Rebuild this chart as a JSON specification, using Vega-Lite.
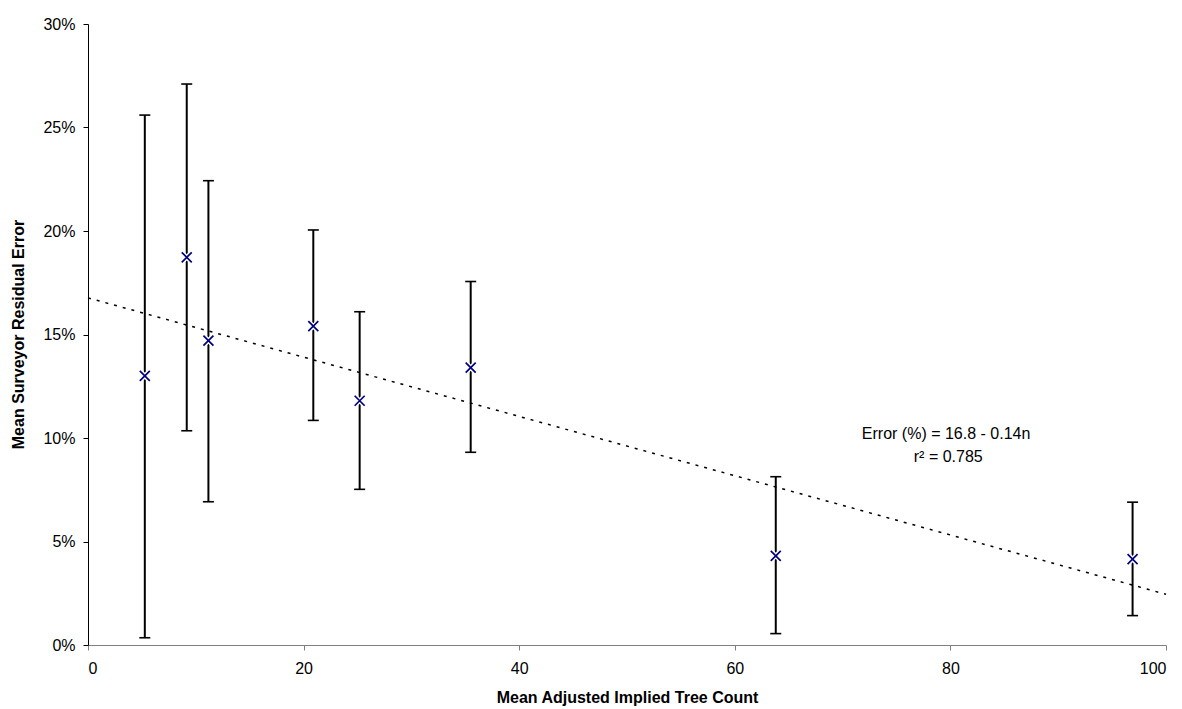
{
  "$schema": "https://vega.github.io/schema/vega-lite/v6.json",
  "width": 1078,
  "height": 621,
  "autosize": {"type": "none"},
  "padding": {"left": 88, "top": 24, "right": 16, "bottom": 64},
  "background": "white",
  "config": {
    "view": {"stroke": null},
    "font": "Liberation Sans",
    "axis": {
      "grid": false,
      "labelFont": "Liberation Sans",
      "labelFontSize": 16,
      "labelColor": "black",
      "titleFont": "Liberation Sans",
      "titleFontSize": 16,
      "titleFontWeight": "bold",
      "titleColor": "black",
      "tickSize": 5,
      "domainWidth": 1,
      "tickWidth": 1
    }
  },
  "datasets": {
    "points": [
      {"n": 5.27, "err": 0.130, "lo": 0.0035, "hi": 0.256},
      {"n": 9.16, "err": 0.1873, "lo": 0.1035, "hi": 0.271},
      {"n": 11.17, "err": 0.147, "lo": 0.0692, "hi": 0.2243},
      {"n": 20.9, "err": 0.154, "lo": 0.1085, "hi": 0.2005},
      {"n": 25.2, "err": 0.118, "lo": 0.0752, "hi": 0.161},
      {"n": 35.5, "err": 0.134, "lo": 0.0931, "hi": 0.1756},
      {"n": 63.8, "err": 0.0431, "lo": 0.0055, "hi": 0.0813},
      {"n": 96.9, "err": 0.0415, "lo": 0.0142, "hi": 0.069}
    ],
    "trend": [
      {"n": 0, "fit": 0.1677},
      {"n": 100, "fit": 0.0245}
    ],
    "notes": [
      {"n": 79.6, "y": 0.1019, "label": "Error (%) = 16.8 - 0.14n"},
      {"n": 79.8, "y": 0.0908, "label": "r² = 0.785"}
    ]
  },
  "layer": [
    {
      "data": {"name": "trend"},
      "mark": {"type": "line", "color": "black", "strokeWidth": 1.5, "strokeDash": [3, 6]},
      "encoding": {
        "x": {
          "field": "n", "type": "quantitative",
          "scale": {"domain": [0, 100], "nice": false, "zero": false},
          "axis": {
            "values": [0, 20, 40, 60, 80, 100], "format": "d",
            "title": "Mean Adjusted Implied Tree Count",
            "domainColor": "#808080", "tickColor": "#808080",
            "labelPadding": 10, "titleX": 539, "titleY": 52, "titleBaseline": "middle"
          }
        },
        "y": {
          "field": "fit", "type": "quantitative",
          "scale": {"domain": [0, 0.3], "nice": false},
          "axis": {
            "values": [0, 0.05, 0.1, 0.15, 0.2, 0.25, 0.3], "format": ".0%",
            "title": "Mean Surveyor Residual Error",
            "domainColor": "black", "tickColor": "black",
            "labelPadding": 8, "titleX": -70, "titleY": 310, "titleAngle": -90,
            "titleAlign": "center", "titleBaseline": "middle"
          }
        }
      }
    },
    {
      "data": {"name": "points"},
      "mark": {"type": "rule", "color": "black", "strokeWidth": 2},
      "encoding": {
        "x": {"field": "n", "type": "quantitative"},
        "y": {"field": "lo", "type": "quantitative"},
        "y2": {"field": "hi"}
      }
    },
    {
      "data": {"name": "points"},
      "mark": {"type": "tick", "color": "black", "orient": "horizontal", "size": 11, "thickness": 1.6, "opacity": 1},
      "encoding": {
        "x": {"field": "n", "type": "quantitative"},
        "y": {"field": "lo", "type": "quantitative"}
      }
    },
    {
      "data": {"name": "points"},
      "mark": {"type": "tick", "color": "black", "orient": "horizontal", "size": 11, "thickness": 1.6, "opacity": 1},
      "encoding": {
        "x": {"field": "n", "type": "quantitative"},
        "y": {"field": "hi", "type": "quantitative"}
      }
    },
    {
      "data": {"name": "points"},
      "mark": {"type": "point", "shape": "M-1,-1L1,1M-1,1L1,-1", "filled": false, "stroke": "white", "strokeWidth": 4.5, "size": 100, "opacity": 1},
      "encoding": {
        "x": {"field": "n", "type": "quantitative"},
        "y": {"field": "err", "type": "quantitative"}
      }
    },
    {
      "data": {"name": "points"},
      "mark": {"type": "point", "shape": "M-1,-1L1,1M-1,1L1,-1", "filled": false, "stroke": "#000080", "strokeWidth": 1.7, "size": 100, "opacity": 1},
      "encoding": {
        "x": {"field": "n", "type": "quantitative"},
        "y": {"field": "err", "type": "quantitative"}
      }
    },
    {
      "data": {"name": "notes"},
      "mark": {"type": "text", "font": "Liberation Sans", "fontSize": 16, "color": "black", "align": "center", "baseline": "middle"},
      "encoding": {
        "x": {"field": "n", "type": "quantitative"},
        "y": {"field": "y", "type": "quantitative"},
        "text": {"field": "label"}
      }
    }
  ]
}
